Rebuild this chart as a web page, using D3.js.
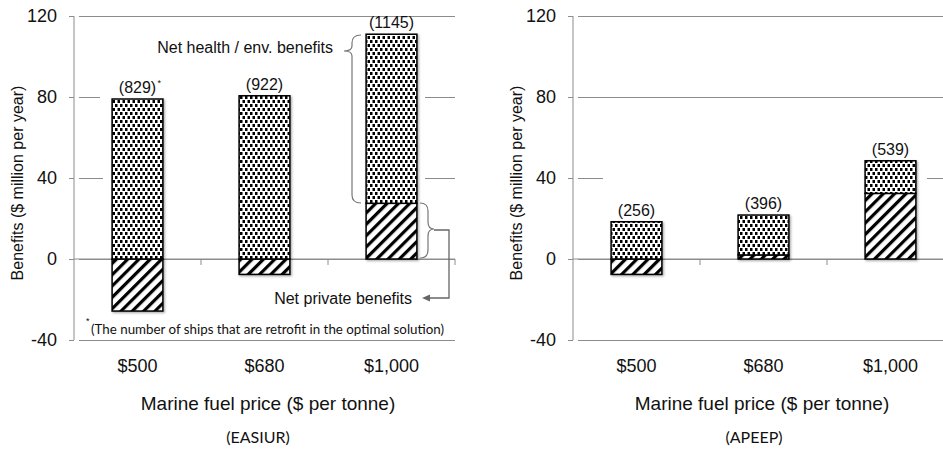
<!DOCTYPE html>
<html>
<head>
<meta charset="utf-8">
<script src="https://cdn.jsdelivr.net/npm/d3@7"></script>
<style>
  html, body { margin: 0; padding: 0; background: #fff; }
  svg { display: block; }
  text { font-family: "Liberation Sans", Arial, sans-serif; fill: #111; }
  .cal { font-family: Lato, "Open Sans", sans-serif; }
</style>
</head>
<body>
<svg id="chart" width="943" height="449"></svg>
<script>
// ---- data ----
const categories = ["$500", "$680", "$1,000"];
const yTicks = [-40, 0, 40, 80, 120];
const easiurPrivate = [-25.7, -7.6, 27.5];
const easiurHealth = [79.0, 80.6, 83.5];
const easiurShips = ["829", "922", "1145"];
const apeepPrivate = [-7.6, 2.0, 32.4];
const apeepHealth = [18.4, 19.7, 16.1];
const apeepShips = ["256", "396", "539"];
const yTitle = "Benefits ($ million per year)";
const xTitle = "Marine fuel price ($ per tonne)";

const svg = d3.select("#chart");
const defs = svg.append("defs");

// dotted pattern
const pd = defs.append("pattern").attr("id", "dots").attr("patternUnits", "userSpaceOnUse")
  .attr("width", 5).attr("height", 8);
pd.append("rect").attr("width", 5).attr("height", 8).attr("fill", "#fff");
pd.append("rect").attr("x", 0).attr("y", 0).attr("width", 2.5).attr("height", 3).attr("fill", "#000");
pd.append("rect").attr("x", 2.5).attr("y", 4).attr("width", 2.5).attr("height", 3).attr("fill", "#000");

// hatch pattern
const ph = defs.append("pattern").attr("id", "hatch").attr("patternUnits", "userSpaceOnUse")
  .attr("width", 8).attr("height", 8).attr("patternTransform", "rotate(45)");
ph.append("rect").attr("width", 8).attr("height", 8).attr("fill", "#fff");
ph.append("rect").attr("x", 0).attr("y", 0).attr("width", 3.2).attr("height", 8).attr("fill", "#000");

const shadow = defs.append("filter").attr("id", "shadow").attr("x", "-20%").attr("y", "-20%")
  .attr("width", "140%").attr("height", "140%");
shadow.append("feDropShadow").attr("dx", 1.2).attr("dy", 1.2).attr("stdDeviation", 0.8)
  .attr("flood-color", "#000").attr("flood-opacity", 0.35);

const y = d3.scaleLinear().domain([-40, 120]).range([340, 16]);

function panel(x0, x1, priv, health, ships, masks, titleX, modelX, modelLabel, yTitleX, isLeft) {
  const g = svg.append("g");
  const x = d3.scaleBand().domain(categories).range([x0, x1]).padding(0);
  const bw = x.bandwidth() * 0.4;

  // gridlines (via axis)
  const grid = g.append("g").attr("transform", `translate(${x0},0)`)
    .call(d3.axisLeft(y).tickValues(yTicks).tickSize(-(x1 - x0)).tickFormat(""));
  grid.select(".domain").remove();
  grid.selectAll("line").attr("stroke", "#8c8c8c").attr("stroke-width", 1).attr("x1", 5);

  // masking white areas (original figure's hidden gridline parts)
  masks.forEach(m => g.append("rect").attr("x", m[0]).attr("y", m[1]).attr("width", m[2]).attr("height", m[3]).attr("fill", "#fff"));

  // y axis
  const ya = g.append("g").attr("transform", `translate(${x0},0)`)
    .call(d3.axisLeft(y).tickValues(yTicks).tickSize(5).tickPadding(12).tickFormat(d => String(d)));
  ya.select(".domain").attr("stroke", "#8c8c8c").attr("d", `M0,${y(120)}V${y(-40)}`);
  ya.selectAll("line").attr("stroke", "#8c8c8c");
  ya.selectAll("text").style("font-size", "18px").style("font-family", '"Liberation Sans", Arial, sans-serif').attr("fill", "#111");

  // zero line with category ticks
  const xa = g.append("g").attr("transform", `translate(0,${y(0)})`)
    .call(d3.axisBottom(x).tickSize(0).tickFormat(""));
  xa.select(".domain").attr("stroke", "#8c8c8c").attr("d", `M${x0},0H${x1}`);
  xa.selectAll(".tick").remove();
  categories.forEach(c => {
    xa.append("line").attr("x1", x(c) + x.bandwidth()).attr("x2", x(c) + x.bandwidth())
      .attr("y1", 0).attr("y2", 6).attr("stroke", "#8c8c8c");
  });

  // bars
  categories.forEach((c, i) => {
    const cx = x(c) + x.bandwidth() / 2;
    const p = priv[i], h = health[i];
    const hBase = p > 0 ? p : 0;
    const bg = g.append("g").attr("filter", "url(#shadow)");
    bg.append("rect").attr("x", cx - bw / 2).attr("width", bw)
      .attr("y", y(Math.max(0, p))).attr("height", Math.abs(y(p) - y(0)))
      .attr("fill", "url(#hatch)").attr("stroke", "#000").attr("stroke-width", 1.5);
    bg.append("rect").attr("x", cx - bw / 2).attr("width", bw)
      .attr("y", y(hBase + h)).attr("height", y(hBase) - y(hBase + h))
      .attr("fill", "url(#dots)").attr("stroke", "#000").attr("stroke-width", 1.5);
    g.append("text").attr("x", cx).attr("y", y(hBase + h) - 6)
      .attr("text-anchor", "middle").style("font-size", "16px").text(`(${ships[i]})`);
    if (isLeft && i === 0) {
      g.append("text").attr("x", cx + 20).attr("y", y(hBase + h) - 13)
        .style("font-size", "9px").text("*");
    }
  });

  // x tick labels
  categories.forEach(c => {
    g.append("text").attr("x", x(c) + x.bandwidth() / 2).attr("y", 372)
      .attr("text-anchor", "middle").style("font-size", "18px").text(c);
  });
  g.append("text").attr("x", titleX).attr("y", 410).attr("text-anchor", "middle")
    .style("font-size", "19px").text(xTitle);
  g.append("text").attr("class", "cal").attr("x", modelX).attr("y", 443).attr("text-anchor", "middle")
    .style("font-size", "16px").text(modelLabel);
  g.append("text").attr("transform", `translate(${yTitleX},183) rotate(-90)`)
    .attr("text-anchor", "middle").style("font-size", "16px").text(yTitle);
  return { g, x };
}

const L = panel(74, 455, easiurPrivate, easiurHealth, easiurShips,
  [[100, 88, 325, 18], [103, 170, 322, 16]], 268, 258, "(EASIUR)", 23, true);
const R = panel(573, 954, apeepPrivate, apeepHealth, apeepShips,
  [[603, 170, 324, 16]], 762, 754, "(APEEP)", 522, false);

// annotations (left panel)
const ag = L.g;
ag.append("text").attr("x", 333).attr("y", 53).attr("text-anchor", "end")
  .style("font-size", "16px").text("Net health / env. benefits");
ag.append("path").attr("fill", "none").attr("stroke", "#777").attr("stroke-width", 1.2)
  .attr("d", "M361,35 Q352,35 352,43 L352,46 Q352,51 344,51 Q352,51 352,56 L352,195 Q352,203 361,203");
ag.append("path").attr("fill", "none").attr("stroke", "#777").attr("stroke-width", 1.2)
  .attr("d", "M420,203 Q428,203 428,211 L428,222 Q428,229 434,229 Q428,229 428,236 L428,250 Q428,258 420,258");
ag.append("path").attr("fill", "none").attr("stroke", "#666").attr("stroke-width", 1.3)
  .attr("d", "M434,230 H449 V298 H428");
ag.append("path").attr("fill", "#666").attr("d", "M422,298 L430,294.5 L430,301.5 Z");
ag.append("text").attr("x", 412).attr("y", 304).attr("text-anchor", "end")
  .style("font-size", "16px").text("Net private benefits");
ag.append("text").attr("x", 86).attr("y", 324).style("font-size", "9px").text("*");
ag.append("text").attr("class", "cal").attr("x", 91).attr("y", 334)
  .attr("textLength", 353).attr("lengthAdjust", "spacingAndGlyphs")
  .style("font-size", "13.5px").text("(The number of ships that are retrofit in the optimal solution)");
</script>
</body>
</html>
